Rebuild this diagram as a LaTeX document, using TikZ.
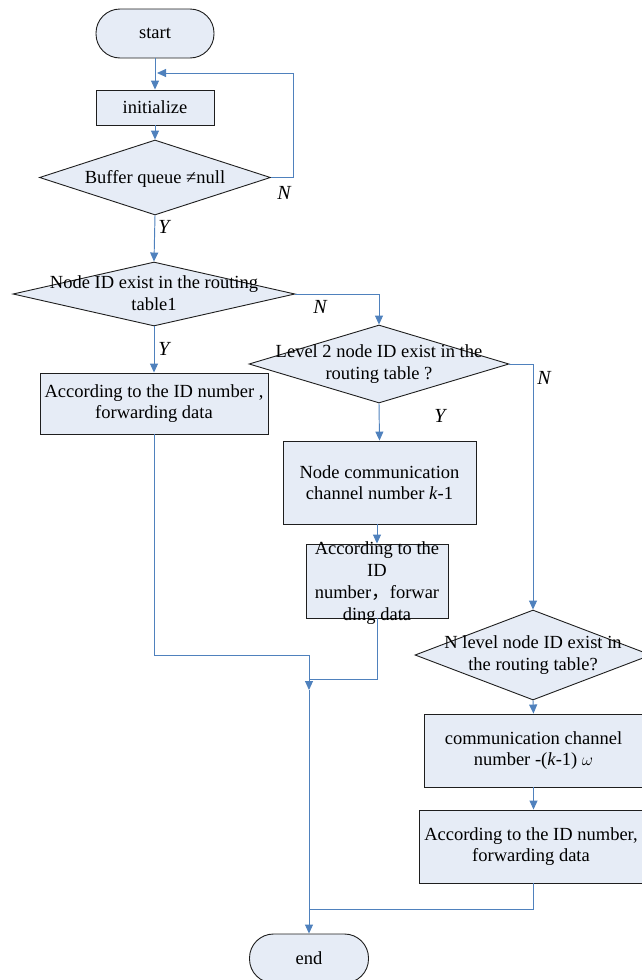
\documentclass[tikz,border=0pt]{standalone}
\usepackage{fontspec}
\setmainfont{Liberation Serif}
\newfontfamily\cjkfont{Noto Sans CJK SC}
\usetikzlibrary{shapes.geometric,arrows.meta}
\definecolor{boxfill}{RGB}{230,236,246}
\definecolor{conncol}{RGB}{79,129,189}
\definecolor{edgecol}{RGB}{30,30,30}
\tikzset{
  txt/.style={font=\fontsize{18.5}{21.5}\selectfont, align=center, inner sep=0pt},
  lab/.style={font=\fontsize{20}{22}\selectfont\itshape, inner sep=0pt},
  procbox/.style={draw=edgecol, fill=boxfill, line width=0.9pt, rectangle, inner sep=0pt},
  termbox/.style={draw=edgecol, fill=boxfill, line width=0.9pt, rectangle, rounded corners=24pt, inner sep=0pt},
  decbox/.style={draw=edgecol, fill=boxfill, line width=0.9pt, diamond, inner sep=0pt, aspect=1},
  conn/.style={draw=conncol, line width=0.95pt},
  arr/.style={conn, -{Triangle[length=9pt,width=8pt]}},
}
\begin{document}
\begin{tikzpicture}[x=1pt,y=-1pt]
\useasboundingbox (0,0) rectangle (641,980);

% shapes
\node[termbox, minimum width=118pt, minimum height=49pt] (start) at (155,33.5) {};
\node[txt] (starttxt) at (start) {start};
\node[procbox, minimum width=118pt, minimum height=35pt] (init) at (155,107.5) {};
\node[txt] (inittxt) at (init) {initialize};
\node[decbox, minimum width=231pt, minimum height=75pt] (d1) at (155,177.5) {};
\node[txt] (d1txt) at (155,179) {Buffer queue ≠null};
\node[decbox, minimum width=282pt, minimum height=64pt] (d2) at (154,294) {};
\node[txt] (d2txt) at (154,293) {Node ID exist in the routing\\table1};
\node[procbox, minimum width=228pt, minimum height=61pt] (b1) at (154,403.5) {};
\node[txt] (b1txt) at (b1) {According to the ID number ,\\forwarding data};
\node[decbox, minimum width=260pt, minimum height=78pt] (d3) at (379,364) {};
\node[txt] (d3txt) at (379,364) {Level 2 node ID exist in the\\routing table ?};
\node[procbox, minimum width=193pt, minimum height=83pt] (b2) at (379.5,482.5) {};
\node[txt] (b2txt) at (b2) {Node communication\\channel number \textit{k}-1};
\node[procbox, minimum width=142pt, minimum height=74pt] (b3) at (377,581) {};
\node[txt, font=\fontsize{18.5}{22}\selectfont] (b3txt) at (377,583) {According to the\\ID\\number{\cjkfont ，}forwar\\ding data};
\node[decbox, minimum width=236pt, minimum height=90pt] (d4) at (533,655) {};
\node[txt] (d4txt) at (533,655) {N level node ID exist in\\the routing table?};
\node[procbox, minimum width=219pt, minimum height=73pt] (b4) at (533.5,750.5) {};
\node[txt] (b4txt) at (b4) {communication channel\\number -(\textit{k}-1) $\omega$};
\node[procbox, minimum width=224pt, minimum height=73pt] (b5) at (531,846.5) {};
\node[txt] (b5txt) at (b5) {According to the ID number,\\forwarding data};
\node[termbox, minimum width=119pt, minimum height=49pt] (end) at (309,958.5) {};
\node[txt] (endtxt) at (end) {end};

% helper coordinates
\coordinate (loopR) at (293,177.5);
\coordinate (loopEnd) at (157,73);
\coordinate (j1) at (154,655);
\coordinate (j2) at (309,655);
\coordinate (j3) at (309,690);
\coordinate (j4) at (309,679);
\coordinate (j5) at (309,909);

% connectors
\draw[arr] (start.south) -- (init.north);
\draw[arr] (init.south) -- (d1.north);
\draw[arr] (d1.east) -- (loopR) |- (loopEnd);
\draw[arr] (d1.south) -- (d2.north);
\draw[arr] (d2.east) -| (d3.north);
\draw[arr] (d2.south) -- (b1.north);
\draw[arr] (d3.south) -- (b2.north);
\draw[arr] (b2.south -| b3.north) -- (b3.north);
\draw[arr] (d3.east) -| (d4.north);
\draw[arr] (d4.south) -- (b4.north);
\draw[arr] (b4.south) -- (b4.south |- b5.north);
\draw[arr] (b1.south) -- (j1) -- (j2) -- (j3);
\draw[conn] (b3.south) |- (j4);
\draw[arr] (j3) -- (end.north);
\draw[conn] (b4.south |- b5.south) |- (j5);

% labels
\node[lab] (lN1) at (284,193) {N};
\node[lab] (lY1) at (164,227) {Y};
\node[lab] (lN2) at (320,307) {N};
\node[lab] (lY2) at (164,349) {Y};
\node[lab] (lN3) at (544,378) {N};
\node[lab] (lY3) at (440,416) {Y};
\end{tikzpicture}
\end{document}
